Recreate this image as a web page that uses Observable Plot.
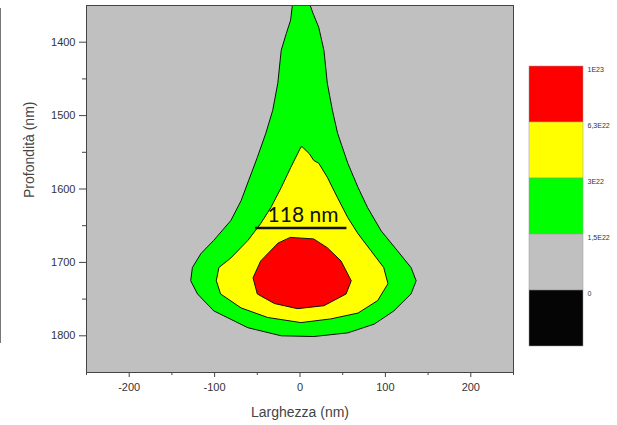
<!DOCTYPE html>
<html><head><meta charset="utf-8">
<script src="https://cdn.jsdelivr.net/npm/d3@7"></script>
<script src="https://cdn.jsdelivr.net/npm/@observablehq/plot@0.6"></script>
<style>
body{margin:0;background:#fff;}
#wrap{position:relative;width:617px;height:425px;overflow:hidden;font-family:Arial,"Liberation Sans",sans-serif;}
#chart{position:absolute;left:0;top:0;}
#legend{position:absolute;left:529px;top:66px;}
#edge{position:absolute;left:0;top:8px;width:1px;height:335px;background:#777;}
</style></head><body>
<div id="wrap"><div id="edge"></div><div id="chart"></div><div id="legend"></div></div>
<script>
// Contour outlines (x: Larghezza nm, y: Profondità nm)
const greenX = [-8, -11, -16, -22, -26, -32, -40, -50, -60, -69, -81, -101, -116, -126, -128, -120, -101, -61, -22, 16, 56, 87, 110, 130, 136, 130, 114, 95, 79, 68, 56, 44, 38, 32, 28, 22, 15, 9];
const greenY = [1340, 1370, 1388, 1411, 1456, 1493, 1524, 1557, 1588, 1616, 1643, 1670, 1688, 1707, 1725, 1743, 1766, 1789, 1800, 1801, 1796, 1784, 1766, 1743, 1725, 1707, 1684, 1657, 1625, 1598, 1565, 1524, 1493, 1456, 1411, 1380, 1360, 1340];
const yellowX = [1, -11, -22, -34, -46, -61, -81, -95, -98, -93, -69, -38, 1, 36, 68, 91, 103, 98, 83, 68, 56, 44, 32, 22, 16, 11, 3];
const yellowY = [1543, 1571, 1598, 1625, 1647, 1670, 1694, 1707, 1725, 1743, 1762, 1775, 1782, 1777, 1769, 1752, 1729, 1707, 1684, 1661, 1639, 1612, 1584, 1565, 1561, 1552, 1543];
const redX = [-11, 16, 32, 48, 60, 54, 28, -3, -30, -50, -55, -46, -26];
const redY = [1666, 1668, 1680, 1698, 1725, 1743, 1759, 1763, 1756, 1743, 1721, 1698, 1674];

const xTicks = [-200, -100, 0, 100, 200];
const xMinor = [-250, -150, -50, 50, 150, 250];
const yTicks = [1400, 1500, 1600, 1700, 1800];
const yMinor = [1450, 1550, 1650, 1750];

const annotText = ["118 nm"];
const annotX = [3.5];
const annotY = [1636];
const annotLineX1 = [-52];
const annotLineX2 = [55];
const annotLineY = [1653];

const legendLevels = ["1E23", "6,3E22", "3E22", "1,5E22", "0"];
const legendColors = ["#ff0000", "#ffff00", "#00ff00", "#c0c0c0", "#050505"];

const pts = (xs, ys) => xs.map((x, i) => ({x, y: ys[i]}));
const plain = d => String(d);

const chart = Plot.plot({
  width: 617, height: 425,
  marginLeft: 86, marginRight: 104, marginTop: 5, marginBottom: 53,
  x: {domain: [-250, 250]},
  y: {domain: [1350, 1850], reverse: true},
  style: {fontFamily: "Arial, 'Liberation Sans', sans-serif", fontSize: "11px", color: "#333", background: "transparent"},
  marks: [
    Plot.frame({fill: "#c0c0c0", stroke: "none"}),
    Plot.line(pts(greenX, greenY), {x: "x", y: "y", curve: "linear-closed", fill: "#00ff00", stroke: "#111", strokeWidth: 1, clip: true}),
    Plot.line(pts(yellowX, yellowY), {x: "x", y: "y", curve: "linear-closed", fill: "#ffff00", stroke: "#111", strokeWidth: 1, clip: true}),
    Plot.line(pts(redX, redY), {x: "x", y: "y", curve: "linear-closed", fill: "#ff0000", stroke: "#111", strokeWidth: 1, clip: true}),
    Plot.ruleY(annotLineY, {y: d => d, x1: (d, i) => annotLineX1[i], x2: (d, i) => annotLineX2[i], stroke: "#111", strokeWidth: 2.5}),
    Plot.text(annotText, {x: (d, i) => annotX[i], y: (d, i) => annotY[i], text: d => d, fontSize: 21, fontFamily: "Lato, 'Open Sans', sans-serif", fill: "#111"}),
    Plot.frame({stroke: "#444", strokeWidth: 1}),
    Plot.axisX({ticks: xTicks, tickSize: 5, tickPadding: 6, tickFormat: plain, label: null, stroke: "#444", fill: "#333"}),
    Plot.axisX({ticks: xMinor, tickSize: 3, tickFormat: () => "", label: null, stroke: "#444"}),
    Plot.axisY({ticks: yTicks, tickSize: 7, tickPadding: 4, tickFormat: plain, label: null, stroke: "#444", fill: "#333"}),
    Plot.axisY({ticks: yMinor, tickSize: 4, tickFormat: () => "", label: null, stroke: "#444"}),
    Plot.text(["Larghezza (nm)"], {frameAnchor: "bottom", dy: 44, text: d => d, fontSize: 14, fill: "#444"}),
    Plot.text(["Profondità (nm)"], {frameAnchor: "left", dx: -57, dy: 9, rotate: -90, text: d => d, fontSize: 14, fill: "#444"})
  ]
});
document.getElementById("chart").appendChild(chart);

const legend = Plot.plot({
  width: 88, height: 280,
  margin: 0, marginRight: 34,
  y: {type: "band", domain: legendLevels, paddingInner: 0, paddingOuter: 0, axis: null},
  color: {domain: legendLevels, range: legendColors},
  style: {fontFamily: "Arial, 'Liberation Sans', sans-serif", background: "transparent", overflow: "visible"},
  marks: [
    Plot.cell(legendLevels, {y: d => d, fill: d => d, stroke: "#999", strokeWidth: 0.5}),
    Plot.text(legendLevels, {y: d => d, text: d => d, frameAnchor: "right", textAnchor: "start", dx: 4, dy: -25, fontSize: 7, fill: "#333"})
  ]
});
document.getElementById("legend").appendChild(legend);
</script>
</body></html>
